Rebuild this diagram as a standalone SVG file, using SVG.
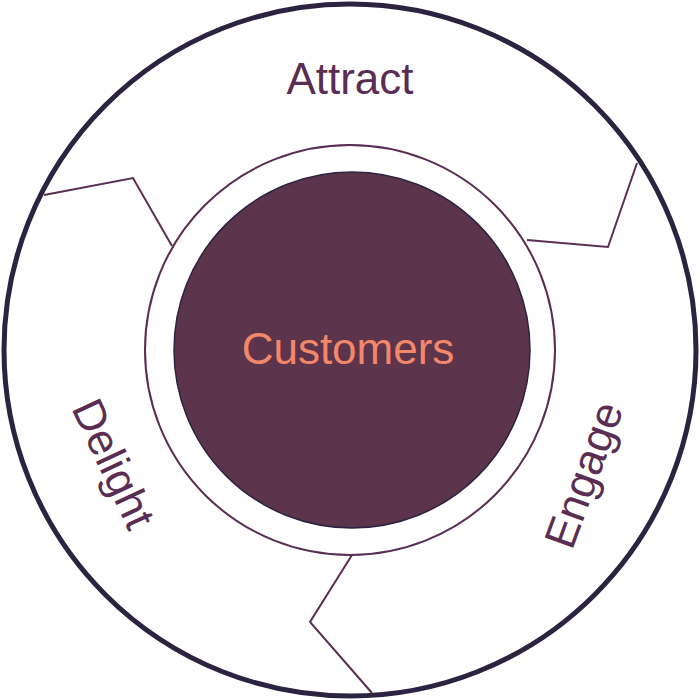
<svg xmlns="http://www.w3.org/2000/svg" width="700" height="700" viewBox="0 0 700 700">
<style>
.lbl{font-family:"Liberation Sans",Arial,sans-serif;font-size:44px;fill:#5a2d52;text-anchor:middle;font-weight:300}
.div{fill:none;stroke:#5a2d52;stroke-width:2}
</style>
<rect width="700" height="700" fill="#fff"/>
<g id="outer"><circle cx="350" cy="350" r="346" fill="#fff" stroke="#2b2340" stroke-width="5"/></g>
<g id="ring"><circle cx="350" cy="350" r="205" fill="#fff" stroke="#5a2d52" stroke-width="2"/></g>
<g id="connectors">
<polyline class="div" points="44,195 133,178 172,246"/>
<polyline class="div" points="637,163 608,247 527,240"/>
<polyline class="div" points="352,555 310,622 372,693"/>
</g>
<g id="customers"><circle cx="352" cy="350" r="178" fill="#5c344b" stroke="#2b2340" stroke-width="1.5"/>
<text x="348" y="364" class="lbl" style="fill:#f2876a">Customers</text></g>
<g id="attract"><text x="350" y="94" class="lbl">Attract</text></g>
<g id="engage"><text class="lbl" transform="translate(598,480) rotate(-70)">Engage</text></g>
<g id="delight"><text class="lbl" transform="translate(100,470) rotate(65)">Delight</text></g>
</svg>
